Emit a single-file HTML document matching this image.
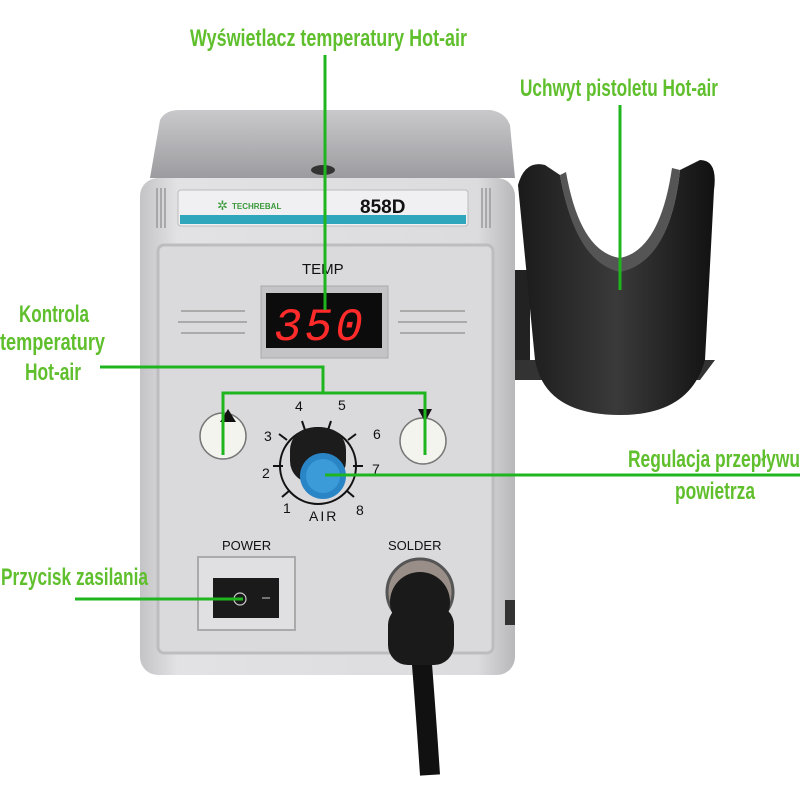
<!DOCTYPE html>
<html><head><meta charset="utf-8"><style>
html,body{margin:0;padding:0;background:#fff;}
svg{display:block}
.g{font-family:"Liberation Sans",sans-serif;font-weight:bold;fill:#5fbf2c;font-size:24px}
.k{font-family:"Liberation Sans",sans-serif;fill:#111}
</style></head><body>
<svg width="800" height="800" viewBox="0 0 800 800" xmlns="http://www.w3.org/2000/svg">
<defs>
<linearGradient id="top" x1="0" y1="0" x2="0" y2="1"><stop offset="0" stop-color="#c9c9cc"/><stop offset="1" stop-color="#9c9ca0"/></linearGradient>
<linearGradient id="front" x1="0" y1="0" x2="1" y2="0"><stop offset="0" stop-color="#c4c4c7"/><stop offset="0.1" stop-color="#e2e2e4"/><stop offset="0.9" stop-color="#dcdcde"/><stop offset="1" stop-color="#b8b8bb"/></linearGradient>
<linearGradient id="hold" x1="0" y1="0" x2="1" y2="0"><stop offset="0" stop-color="#1a1a1a"/><stop offset="0.5" stop-color="#3a3a3a"/><stop offset="1" stop-color="#111"/></linearGradient>
</defs>
<rect x="500" y="270" width="30" height="100" fill="#222"/>
<polygon points="505,360 715,360 700,380 505,380" fill="#333"/>
<path d="M518 185 Q525 160 545 165 L560 175 Q575 260 620 270 Q670 262 680 170 L700 160 Q718 160 714 190 L705 360 Q690 415 620 415 Q545 415 535 360 Z" fill="url(#hold)"/>
<path d="M560 175 Q575 262 620 272 Q670 262 680 170 L672 168 Q660 250 620 258 Q580 252 566 172Z" fill="#555"/>
<path d="M150 178 L160 120 Q165 110 180 110 L490 110 Q505 112 510 125 L515 178 Z" fill="url(#top)"/>
<ellipse cx="323" cy="170" rx="12" ry="5" fill="#333"/>
<rect x="140" y="178" width="375" height="497" rx="18" fill="url(#front)"/>
<rect x="505" y="600" width="10" height="25" fill="#333"/>
<rect x="178" y="190" width="290" height="36" rx="3" fill="#f0f0f2" stroke="#bbb"/>
<rect x="180" y="215" width="286" height="9" fill="#2fa6bb"/>
<text x="232" y="209" font-family="Liberation Sans" font-size="8" font-weight="bold" fill="#3a9a3a">TECHREBAL</text>
<text x="217" y="210" font-size="13" fill="#3a9a3a">✲</text>
<text x="360" y="213" class="k" font-size="19" font-weight="bold">858D</text>
<g stroke="#999" stroke-width="1.5"><line x1="157" y1="188" x2="157" y2="228"/><line x1="161" y1="188" x2="161" y2="228"/><line x1="165" y1="188" x2="165" y2="228"/><line x1="482" y1="188" x2="482" y2="228"/><line x1="486" y1="188" x2="486" y2="228"/><line x1="490" y1="188" x2="490" y2="228"/></g>
<rect x="158" y="245" width="335" height="408" rx="6" fill="#dadadc" stroke="#bdbdc0" stroke-width="3"/>
<text x="302" y="274" class="k" font-size="15">TEMP</text>
<rect x="261" y="286" width="127" height="72" fill="#c4c4c6" stroke="#aaa"/>
<rect x="266" y="293" width="116" height="55" fill="#0c0c0c"/>
<text x="274" y="340" font-family="Liberation Mono" font-size="46" font-style="italic" fill="#ff2a2a" letter-spacing="3">350</text>
<g stroke="#aaa" stroke-width="2"><line x1="181" y1="311" x2="245" y2="311"/><line x1="178" y1="322" x2="247" y2="322"/><line x1="181" y1="333" x2="245" y2="333"/><line x1="400" y1="311" x2="465" y2="311"/><line x1="398" y1="322" x2="467" y2="322"/><line x1="400" y1="333" x2="465" y2="333"/></g>
<circle cx="223" cy="436" r="23" fill="#f4f4ee" stroke="#777" stroke-width="1.5"/>
<circle cx="423" cy="441" r="23" fill="#f4f4ee" stroke="#777" stroke-width="1.5"/>
<polygon points="220,422 236,422 228,409" fill="#111"/>
<polygon points="418,409 432,409 425,422" fill="#111"/>
<circle cx="318" cy="466" r="38" fill="none" stroke="#111" stroke-width="2"/>
<g stroke="#111" stroke-width="2">
<line x1="289" y1="491" x2="282" y2="497"/><line x1="283" y1="466" x2="273" y2="466"/><line x1="287" y1="440" x2="279" y2="434"/><line x1="305" y1="430" x2="302" y2="421"/><line x1="328" y1="430" x2="331" y2="421"/><line x1="348" y1="440" x2="356" y2="434"/><line x1="353" y1="466" x2="363" y2="466"/><line x1="347" y1="491" x2="354" y2="497"/>
</g>
<g class="k" font-size="14"><text x="283" y="513">1</text><text x="262" y="478">2</text><text x="264" y="441">3</text><text x="295" y="411">4</text><text x="338" y="410">5</text><text x="373" y="439">6</text><text x="372" y="474">7</text><text x="356" y="515">8</text><text x="309" y="521" letter-spacing="2">AIR</text></g>
<rect x="290" y="428" width="56" height="55" rx="22" fill="#1c1c1c"/>
<circle cx="323" cy="476" r="23" fill="#2a85c7"/>
<circle cx="323" cy="476" r="17" fill="#3b9ad8"/>
<text x="222" y="550" class="k" font-size="13">POWER</text>
<rect x="198" y="557" width="97" height="73" fill="#e0e0e2" stroke="#aaa" stroke-width="2"/>
<rect x="213" y="578" width="66" height="40" fill="#1a1a1a"/>
<circle cx="240" cy="599" r="6" fill="none" stroke="#ccc" stroke-width="1.2"/>
<line x1="262" y1="598" x2="270" y2="598" stroke="#ccc"/>
<text x="388" y="550" class="k" font-size="13">SOLDER</text>
<path d="M420 640 Q425 700 430 775" stroke="#111" stroke-width="20" fill="none"/>
<rect x="388" y="605" width="66" height="60" rx="20" fill="#1a1a1a"/>
<circle cx="420" cy="592" r="33" fill="#9a8f88" stroke="#555" stroke-width="3"/>
<circle cx="420" cy="602" r="30" fill="#1a1a1a"/>
<g stroke="#1fb51f" stroke-width="3" fill="none">
<line x1="325" y1="55" x2="325" y2="310"/>
<line x1="620" y1="105" x2="620" y2="290"/>
<polyline points="100,367 323,367 323,393"/>
<polyline points="223,455 223,393 425,393 425,455"/>
<line x1="325" y1="475" x2="800" y2="475"/>
<line x1="75" y1="599" x2="243" y2="599"/>
</g>
<text x="190" y="46" class="g" textLength="277" lengthAdjust="spacingAndGlyphs">Wyświetlacz temperatury Hot-air</text>
<text x="520" y="96" class="g" textLength="198" lengthAdjust="spacingAndGlyphs">Uchwyt pistoletu Hot-air</text>
<text x="19" y="322" class="g" textLength="70" lengthAdjust="spacingAndGlyphs">Kontrola</text>
<text x="0" y="350" class="g" textLength="105" lengthAdjust="spacingAndGlyphs">temperatury</text>
<text x="25" y="380" class="g" textLength="56" lengthAdjust="spacingAndGlyphs">Hot-air</text>
<text x="628" y="467" class="g" textLength="172" lengthAdjust="spacingAndGlyphs">Regulacja przepływu</text>
<text x="675" y="499" class="g" textLength="80" lengthAdjust="spacingAndGlyphs">powietrza</text>
<text x="1" y="585" class="g" textLength="147" lengthAdjust="spacingAndGlyphs">Przycisk zasilania</text>
</svg>
</body></html>
